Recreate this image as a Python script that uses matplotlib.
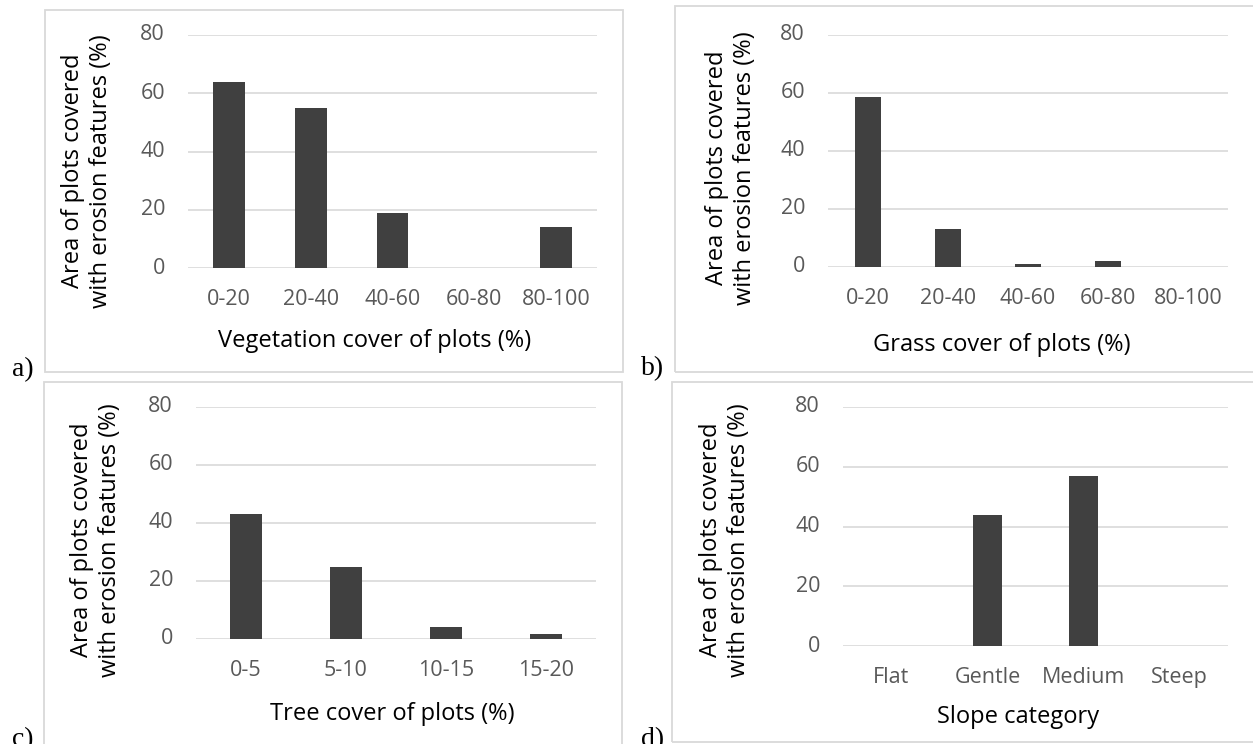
import matplotlib.pyplot as plt
from matplotlib.patches import Rectangle

# erosion feature area per class (%)
veg_classes = ['0-20', '20-40', '40-60', '60-80', '80-100']
veg_area = [64, 55, 19, 0, 14]

grass_classes = ['0-20', '20-40', '40-60', '60-80', '80-100']
grass_area = [58.5, 13, 1, 2, 0]

tree_classes = ['0-5', '5-10', '10-15', '15-20']
tree_area = [43, 25, 4, 1.6]

slope_classes = ['Flat', 'Gentle', 'Medium', 'Steep']
slope_area = [0, 44, 57, 0]

ylabel_text = 'Area of plots covered\nwith erosion features (%)'

W, H = 1253, 744
plt.rcParams['font.family'] = ['Open Sans', 'DejaVu Sans']

fig = plt.figure(figsize=(W / 100, H / 100), dpi=100)

GRID = '#d9d9d9'
BAR = '#404040'
TICK = '#595959'
FS = 15.5      # tick labels
FS_LAB = 17    # axis titles


def px_box(x0, y0, x1, y1):
    # pixel box (top-left origin) -> figure fraction rect
    return [x0 / W, 1 - y1 / H, (x1 - x0) / W, (y1 - y0) / H]


def panel(rect, cats, vals, width, xlabel, xlab_pos, ylab_xy, frame, letter, letter_xy):
    ax = fig.add_axes(px_box(*rect))
    ax.bar(range(len(cats)), vals, width=width, color=BAR, zorder=3)
    ax.set_xlim(-0.5, len(cats) - 0.5)
    ax.set_ylim(0, 80)
    ax.set_yticks([0, 20, 40, 60, 80])
    ax.set_xticks(range(len(cats)))
    ax.set_xticklabels(cats)
    ax.yaxis.grid(True, color=GRID, lw=1.2, zorder=0)
    ax.set_axisbelow(True)
    for s in ['top', 'right', 'left', 'bottom']:
        ax.spines[s].set_visible(False)
    ax.tick_params(axis='both', length=0, labelsize=FS, labelcolor=TICK)
    ax.tick_params(axis='x', pad=23)
    ax.tick_params(axis='y', pad=16.5)
    for lab in ax.get_xticklabels():
        lab.set_va('center')
    for lab in ax.get_yticklabels():
        lab.set_va('center')
    ax.set_xlabel(xlabel, fontsize=FS_LAB, color='black', va='center')
    ax.xaxis.set_label_coords(*xlab_pos)
    fig.text(ylab_xy[0] / W, 1 - ylab_xy[1] / H, ylabel_text, rotation=90,
             ha='center', va='center', ma='center', fontsize=FS_LAB, linespacing=1.2)
    x0, y0, x1, y1 = frame
    fig.add_artist(Rectangle((x0 / W, 1 - y1 / H), (x1 - x0) / W, (y1 - y0) / H,
                             transform=fig.transFigure, fill=False,
                             edgecolor=GRID, lw=1.3))
    fig.text(letter_xy[0] / W, 1 - letter_xy[1] / H, letter,
             family='Liberation Serif', fontsize=20, ha='left', va='baseline')
    return ax


panel((188, 35, 597, 268), veg_classes, veg_area, 0.39,
      'Vegetation cover of plots (%)', (0.455, -0.313), (87, 171),
      (45, 10, 623, 372), 'a)', (12, 376))

panel((828, 35, 1228, 267), grass_classes, grass_area, 0.32,
      'Grass cover of plots (%)', (0.435, -0.336), (731, 168),
      (675, 6, 1260, 372), 'b)', (641, 375))

panel((196, 407, 596, 639), tree_classes, tree_area, 0.32,
      'Tree cover of plots (%)', (0.49, -0.325), (96, 540),
      (44, 382, 622, 760), 'c)', (12, 746))

panel((843, 407, 1228, 646), slope_classes, slope_area, 0.30,
      'Slope category', (0.456, -0.297), (725, 540),
      (672, 382, 1260, 742), 'd)', (641, 746))

fig.savefig('out.png', dpi=100)
